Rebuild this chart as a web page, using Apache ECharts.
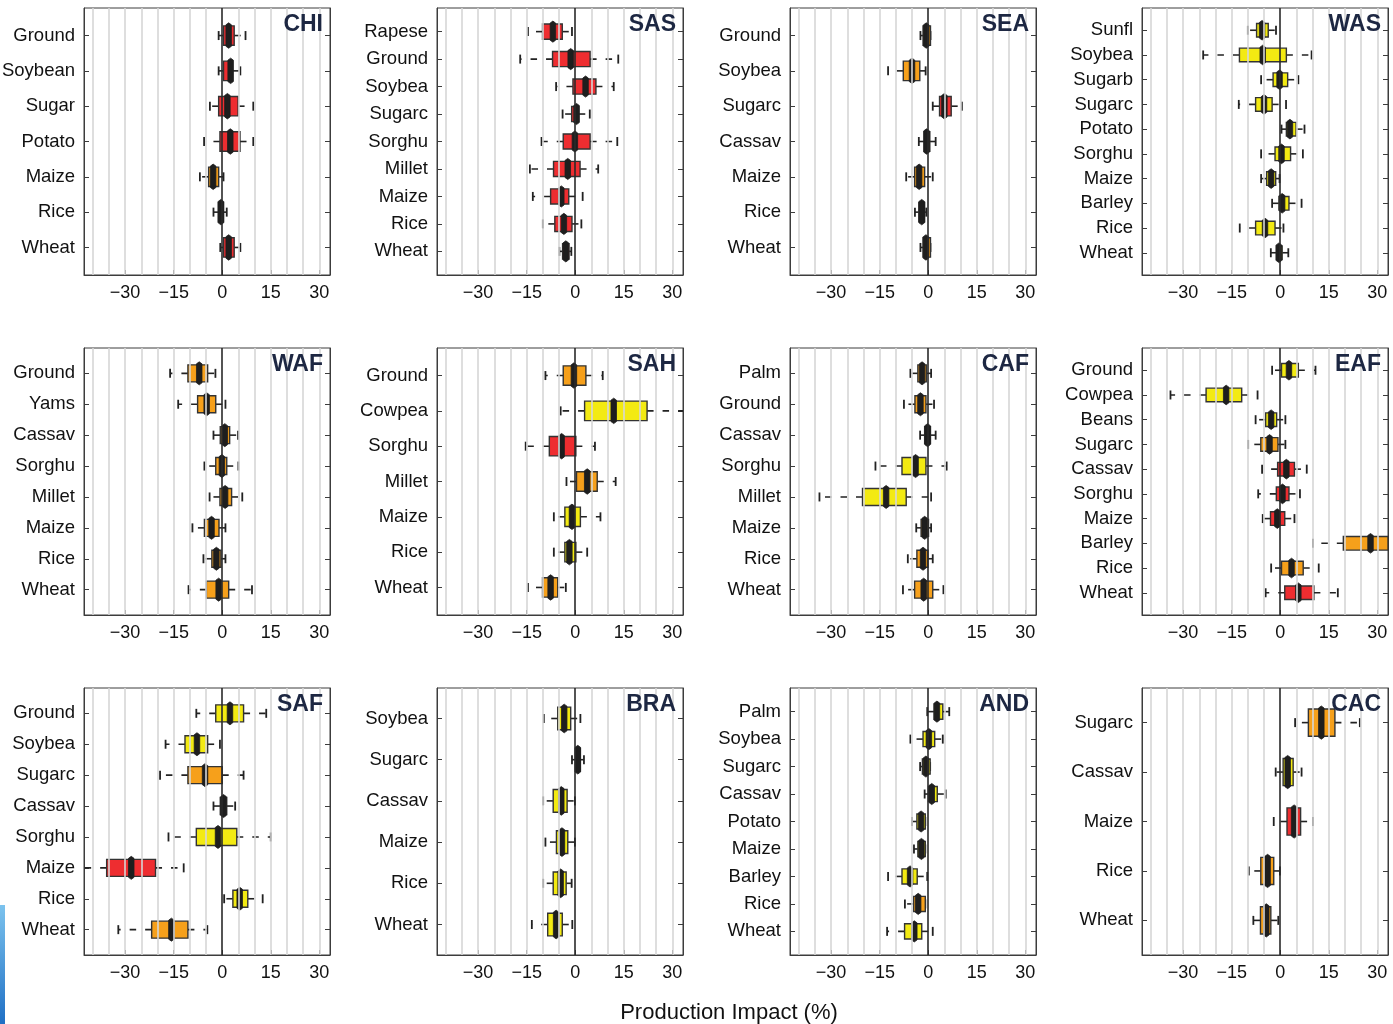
<!DOCTYPE html>
<html>
<head>
<meta charset="utf-8">
<script src="https://cdn.jsdelivr.net/npm/echarts@6/dist/echarts.min.js"></script>
<style>
  html, body { margin: 0; padding: 0; background: #ffffff; }
  #chart { width: 1393px; height: 1024px; }
</style>
</head>
<body>
<div id="chart"></div>
<script>
// Projected crop production impact (%) by region.
// Each stats row: [low whisker, 25th pct, median, 75th pct, high whisker]
// Tone index: 0 = red, 1 = orange, 2 = yellow

const CHI_crops = ['Ground', 'Soybean', 'Sugar', 'Potato', 'Maize', 'Rice', 'Wheat'];
const CHI_stats = [
  [-1.1, 0.4, 2.0, 3.7, 7.2],
  [-1.1, 0.4, 2.6, 3.2, 5.6],
  [-3.8, -1.1, 1.6, 4.9, 9.6],
  [-5.6, -0.7, 2.5, 5.5, 9.6],
  [-6.9, -4.2, -2.8, -1.1, 0.4],
  [-2.7, -1.2, -0.4, 0.4, 1.4],
  [-0.6, 0.4, 2.0, 3.7, 5.6]
];
const CHI_tone = [0, 0, 0, 0, 1, 0, 0];

const SAS_crops = ['Rapese', 'Ground', 'Soybea', 'Sugarc', 'Sorghu', 'Millet', 'Maize', 'Rice', 'Wheat'];
const SAS_stats = [
  [-14.6, -10.1, -6.9, -4.0, -1.0],
  [-17.0, -7.0, -1.4, 4.6, 13.3],
  [-5.9, -0.7, 3.2, 6.4, 11.9],
  [-3.9, -1.1, 0.4, 1.1, 4.5],
  [-10.4, -3.7, -0.1, 4.6, 13.0],
  [-14.0, -6.7, -2.3, 1.5, 7.1],
  [-13.1, -7.6, -4.3, -2.0, 2.3],
  [-10.0, -6.3, -3.5, -1.0, 1.9],
  [-4.9, -3.9, -2.9, -1.9, -1.2]
];
const SAS_tone = [0, 0, 0, 0, 0, 0, 0, 0, 0];

const SEA_crops = ['Ground', 'Soybea', 'Sugarc', 'Cassav', 'Maize', 'Rice', 'Wheat'];
const SEA_stats = [
  [-2.4, -1.6, -0.6, 0.7, 0.7],
  [-12.4, -7.7, -5.0, -2.6, -0.8],
  [1.4, 3.5, 5.0, 7.1, 10.4],
  [-2.9, -1.3, -0.5, 0.5, 2.3],
  [-6.8, -4.2, -2.8, -1.1, 1.4],
  [-4.1, -2.9, -2.0, -1.1, -0.6],
  [-2.4, -1.6, -0.7, 0.7, 0.7]
];
const SEA_tone = [1, 1, 0, 1, 1, 0, 1];

const WAS_crops = ['Sunfl', 'Soybea', 'Sugarb', 'Sugarc', 'Potato', 'Sorghu', 'Maize', 'Barley', 'Rice', 'Wheat'];
const WAS_stats = [
  [-10.0, -7.3, -5.6, -3.7, -1.3],
  [-23.8, -12.6, -5.4, 1.9, 9.7],
  [-5.9, -2.2, -0.2, 2.3, 5.6],
  [-12.8, -7.6, -5.0, -2.5, 1.8],
  [0.4, 1.9, 3.0, 4.9, 7.5],
  [-5.9, -1.6, 0.4, 3.2, 7.0],
  [-5.9, -4.2, -2.8, -1.4, -0.2],
  [-2.5, -0.4, 0.6, 2.7, 6.6],
  [-12.5, -7.6, -4.7, -1.6, 1.0],
  [-2.9, -1.2, -0.4, 0.6, 2.5]
];
const WAS_tone = [2, 2, 2, 2, 2, 2, 2, 2, 2, 2];

const WAF_crops = ['Ground', 'Yams', 'Cassav', 'Sorghu', 'Millet', 'Maize', 'Rice', 'Wheat'];
const WAF_stats = [
  [-16.1, -10.6, -7.1, -4.5, -2.1],
  [-13.6, -7.6, -4.8, -2.0, 1.0],
  [-2.7, -0.6, 0.8, 2.3, 4.9],
  [-5.5, -2.0, -0.1, 1.4, 5.0],
  [-3.9, -0.7, 0.9, 2.9, 6.2],
  [-9.2, -5.5, -3.3, -1.0, 1.0],
  [-5.8, -3.2, -1.8, -0.4, 1.0],
  [-10.4, -4.9, -1.1, 2.0, 9.2]
];
const WAF_tone = [1, 1, 1, 1, 1, 1, 1, 1];

const SAH_crops = ['Ground', 'Cowpea', 'Sorghu', 'Millet', 'Maize', 'Rice', 'Wheat'];
const SAH_stats = [
  [-9.2, -3.7, -0.4, 3.3, 8.5],
  [-4.5, 2.9, 11.9, 22.2, 36.0],
  [-15.3, -8.0, -4.2, 0.2, 6.1],
  [-2.7, 0.4, 3.7, 6.8, 12.5],
  [-6.6, -3.2, -1.0, 1.6, 7.8],
  [-6.6, -3.2, -1.8, 0.2, 3.7],
  [-14.6, -10.1, -7.6, -5.4, -2.9]
];
const SAH_tone = [1, 2, 0, 1, 2, 2, 1];

const CAF_crops = ['Palm', 'Ground', 'Cassav', 'Sorghu', 'Millet', 'Maize', 'Rice', 'Wheat'];
const CAF_stats = [
  [-5.5, -3.2, -1.9, -0.6, 0.9],
  [-7.5, -4.1, -2.4, -0.7, 1.8],
  [-2.5, -1.1, -0.2, 0.7, 2.3],
  [-16.3, -8.1, -3.9, -0.7, 5.7],
  [-33.6, -20.3, -13.0, -6.8, 0.9],
  [-3.7, -2.2, -1.1, 0.1, 0.9],
  [-6.3, -3.5, -1.6, -0.1, 1.4],
  [-7.8, -4.2, -1.4, 1.4, 4.7]
];
const CAF_tone = [1, 1, 1, 2, 2, 1, 1, 1];

const EAF_crops = ['Ground', 'Cowpea', 'Beans', 'Sugarc', 'Cassav', 'Sorghu', 'Maize', 'Barley', 'Rice', 'Wheat'];
const EAF_stats = [
  [-2.5, 0.4, 2.7, 5.6, 10.9],
  [-33.9, -22.9, -16.7, -11.9, -7.0],
  [-7.6, -4.5, -2.8, -1.1, 1.6],
  [-9.9, -6.0, -3.3, -0.7, 1.6],
  [-5.6, -0.8, 1.9, 4.4, 8.2],
  [-6.8, -1.2, 0.7, 2.7, 6.1],
  [-5.4, -3.0, -0.9, 1.4, 4.4],
  [10.1, 19.5, 27.9, 35.0, 42.0],
  [-2.8, 0.4, 3.5, 7.1, 11.9],
  [-4.5, 1.4, 5.6, 10.4, 17.8]
];
const EAF_tone = [2, 2, 2, 1, 0, 0, 0, 1, 1, 0];

const SAF_crops = ['Ground', 'Soybea', 'Sugarc', 'Cassav', 'Sorghu', 'Maize', 'Rice', 'Wheat'];
const SAF_stats = [
  [-8.0, -2.0, 2.4, 6.6, 13.6],
  [-17.5, -11.5, -7.8, -4.5, -0.7],
  [-19.2, -10.6, -5.3, 0.0, 6.6],
  [-2.7, -0.6, 0.4, 1.4, 4.0],
  [-16.6, -8.0, -1.3, 4.5, 15.0],
  [-46.0, -35.7, -28.1, -20.6, -11.9],
  [0.6, 3.3, 5.4, 7.9, 12.5],
  [-32.1, -21.8, -15.7, -10.6, -4.6]
];
const SAF_tone = [2, 2, 1, 1, 2, 0, 2, 1];

const BRA_crops = ['Soybea', 'Sugarc', 'Cassav', 'Maize', 'Rice', 'Wheat'];
const BRA_stats = [
  [-9.7, -5.4, -3.4, -1.4, 1.6],
  [-1.0, 0.1, 0.8, 1.6, 2.7],
  [-9.9, -6.8, -4.3, -2.5, -0.1],
  [-9.2, -5.8, -4.1, -2.3, -0.1],
  [-9.9, -6.8, -4.5, -2.8, -1.1],
  [-13.4, -8.5, -5.9, -4.0, -0.9]
];
const BRA_tone = [2, 2, 2, 2, 2, 2];

const AND_crops = ['Palm', 'Soybea', 'Sugarc', 'Cassav', 'Potato', 'Maize', 'Barley', 'Rice', 'Wheat'];
const AND_stats = [
  [-0.3, 1.8, 2.7, 4.5, 6.5],
  [-5.5, -1.6, 0.2, 2.0, 4.5],
  [-2.5, -1.8, -0.7, 0.6, 0.6],
  [-1.1, 0.1, 1.1, 2.8, 5.4],
  [-5.0, -3.5, -2.2, -0.9, -0.9],
  [-4.4, -3.2, -2.1, -0.9, -0.9],
  [-12.4, -8.1, -5.6, -3.4, -0.3],
  [-7.2, -4.5, -3.1, -0.9, -0.9],
  [-12.7, -7.3, -4.3, -2.0, 1.4]
];
const AND_tone = [2, 2, 2, 2, 2, 2, 2, 1, 2];

const CAC_crops = ['Sugarc', 'Cassav', 'Maize', 'Rice', 'Wheat'];
const CAC_stats = [
  [4.6, 8.7, 12.7, 16.9, 24.6],
  [-1.4, 0.9, 2.3, 4.0, 6.6],
  [-2.0, 2.1, 4.3, 6.3, 10.1],
  [-9.7, -6.0, -3.9, -2.0, -0.1],
  [-8.3, -6.1, -4.3, -2.9, -0.6]
];
const CAC_tone = [1, 2, 0, 1, 1];

// Axis ticks and background reference lines (percent)
const X_TICKS = [-30, -15, 0, 15, 30];
const X_GUIDES = [-40, -35, -30, -25, -20, -15, -10, -5, 5, 10, 15, 20, 25, 30];
const X_MIN = -42.7;
const X_MAX = 33.3;

const TONES = ['#ee2d30', '#f6a01b', '#f3ea12'];

const REGIONS = [
  { name: 'CHI', crops: CHI_crops, stats: CHI_stats, tone: CHI_tone },
  { name: 'SAS', crops: SAS_crops, stats: SAS_stats, tone: SAS_tone },
  { name: 'SEA', crops: SEA_crops, stats: SEA_stats, tone: SEA_tone },
  { name: 'WAS', crops: WAS_crops, stats: WAS_stats, tone: WAS_tone },
  { name: 'WAF', crops: WAF_crops, stats: WAF_stats, tone: WAF_tone },
  { name: 'SAH', crops: SAH_crops, stats: SAH_stats, tone: SAH_tone },
  { name: 'CAF', crops: CAF_crops, stats: CAF_stats, tone: CAF_tone },
  { name: 'EAF', crops: EAF_crops, stats: EAF_stats, tone: EAF_tone },
  { name: 'SAF', crops: SAF_crops, stats: SAF_stats, tone: SAF_tone },
  { name: 'BRA', crops: BRA_crops, stats: BRA_stats, tone: BRA_tone },
  { name: 'AND', crops: AND_crops, stats: AND_stats, tone: AND_tone },
  { name: 'CAC', crops: CAC_crops, stats: CAC_stats, tone: CAC_tone }
];

// Panel layout
const COL_LEFT = [84, 437, 790, 1142];
const ROW_TOP = [8, 348, 688];
const PLOT_W = 246;
const PLOT_H = 267;

const INK = '#222222';
const FONT = '"Liberation Sans", Arial, Helvetica, sans-serif';

function fmtTick(v) {
  return v < 0 ? '\u2212' + Math.abs(v) : String(v);
}

// One box per crop row: dashed whiskers with caps, filled box, dark median bar
function renderBox(params, api) {
  const cat = api.value(0);
  const lo = api.value(1), q1 = api.value(2), md = api.value(3), q3 = api.value(4), hi = api.value(5);
  const fill = TONES[api.value(6)];
  const cs = params.coordSys;
  const xL = cs.x, xR = cs.x + cs.width;
  const clampX = (x) => Math.max(xL, Math.min(xR, x));
  const px = (v) => api.coord([v, cat])[0];
  const y = api.coord([0, cat])[1];
  const unit = Math.abs(api.size([0, 1])[1]);
  const boxH = unit * 0.55;
  const capH = 9;
  const children = [];
  const whisk = { stroke: INK, lineWidth: 1.6, lineDash: [6.5, 9] };
  const cap = { stroke: INK, lineWidth: 1.8 };

  const pLo = px(lo), pQ1 = px(q1), pMd = px(md), pQ3 = px(q3), pHi = px(hi);

  if (pQ1 - pLo > 0.5) {
    children.push({ type: 'line', shape: { x1: clampX(pQ1), y1: y, x2: clampX(pLo), y2: y }, style: whisk });
  }
  if (pHi - pQ3 > 0.5) {
    children.push({ type: 'line', shape: { x1: clampX(pQ3), y1: y, x2: clampX(pHi), y2: y }, style: whisk });
  }
  if (pLo >= xL && pLo <= xR) {
    children.push({ type: 'line', shape: { x1: pLo, y1: y - capH / 2, x2: pLo, y2: y + capH / 2 }, style: cap });
  }
  if (pHi >= xL && pHi <= xR) {
    children.push({ type: 'line', shape: { x1: pHi, y1: y - capH / 2, x2: pHi, y2: y + capH / 2 }, style: cap });
  }
  const bx1 = clampX(pQ1), bx2 = clampX(pQ3);
  children.push({
    type: 'rect',
    shape: { x: bx1, y: y - boxH / 2, width: Math.max(0, bx2 - bx1), height: boxH },
    style: { fill: fill, stroke: '#333333', lineWidth: 1.4 }
  });
  if (pMd >= xL && pMd <= xR) {
    const w = 5.5, h = boxH + 6, t = y - h / 2, b = y + h / 2;
    children.push({
      type: 'polygon',
      shape: { points: [[pMd - w / 2, t + 2], [pMd, t], [pMd + w / 2, t + 2], [pMd + w / 2, b - 2], [pMd, b], [pMd - w / 2, b - 2]] },
      style: { fill: '#1e1e1e', stroke: '#1e1e1e', lineWidth: 0.8 }
    });
  }
  return { type: 'group', children: children };
}

const grids = [], xAxes = [], yAxes = [], series = [], graphics = [];

REGIONS.forEach((reg, i) => {
  const col = i % 4, row = Math.floor(i / 4);
  const left = COL_LEFT[col], top = ROW_TOP[row];
  const n = reg.crops.length;
  const pad = 0.5 + 0.04 * n;
  const catTicks = reg.crops.map((_, k) => k + 1);

  grids.push({
    left: left, top: top, width: PLOT_W, height: PLOT_H,
    show: true, borderColor: '#3c3c3c', borderWidth: 1, backgroundColor: 'transparent',
    containLabel: false, outerBoundsMode: 'none'
  });

  xAxes.push({
    gridIndex: i, type: 'value', min: X_MIN, max: X_MAX, position: 'bottom',
    axisLine: { show: true, onZero: false, lineStyle: { color: '#3c3c3c', width: 1 } },
    axisTick: { show: true, inside: true, length: 5, customValues: X_TICKS, lineStyle: { color: '#3c3c3c', width: 1 } },
    axisLabel: { show: true, customValues: X_TICKS, formatter: fmtTick, fontSize: 18, color: '#111', fontFamily: FONT, margin: 9 },
    splitLine: { show: false }
  });

  yAxes.push({
    gridIndex: i, type: 'value', inverse: true, min: 1 - pad, max: n + pad, position: 'left',
    axisLine: { show: true, onZero: false, lineStyle: { color: '#3c3c3c', width: 1 } },
    axisTick: { show: true, inside: true, length: 5, customValues: catTicks, lineStyle: { color: '#3c3c3c', width: 1 } },
    axisLabel: {
      show: true, customValues: catTicks, fontSize: 18.5, color: '#111', fontFamily: FONT, margin: 9,
      formatter: (v) => reg.crops[Math.round(v) - 1] || ''
    },
    splitLine: { show: false }
  });
  yAxes.push({
    gridIndex: i, type: 'value', inverse: true, min: 1 - pad, max: n + pad, position: 'right',
    axisLine: { show: true, onZero: false, lineStyle: { color: '#3c3c3c', width: 1 } },
    axisTick: { show: true, inside: true, length: 5, customValues: catTicks, lineStyle: { color: '#3c3c3c', width: 1 } },
    axisLabel: { show: false },
    splitLine: { show: false }
  });

  // reference lines
  series.push({
    type: 'line', xAxisIndex: i, yAxisIndex: 2 * i, data: [], silent: true, z: 1,
    markLine: {
      silent: true, symbol: ['none', 'none'], animation: false,
      label: { show: false },
      lineStyle: { color: '#d6d6d6', width: 1.6, type: 'solid' },
      emphasis: { disabled: true },
      data: X_GUIDES.map((v) => ({ xAxis: v })).concat([
        { xAxis: 0, lineStyle: { color: '#2a2a2a', width: 1.6, type: 'solid' } }
      ])
    }
  });

  series.push({
    type: 'custom', xAxisIndex: i, yAxisIndex: 2 * i, z: 3, silent: true, animation: false,
    renderItem: renderBox,
    encode: { x: [1, 2, 3, 4, 5], y: 0 },
    data: reg.stats.map((s, k) => [k + 1, s[0], s[1], s[2], s[3], s[4], reg.tone[k]])
  });

  graphics.push({
    type: 'text', x: left + PLOT_W - 7, y: top + 17, z: 10, silent: true,
    style: { text: reg.name, fill: '#1d2742', font: 'bold 23px ' + FONT, textAlign: 'right', textVerticalAlign: 'middle' }
  });
});

graphics.push({
  type: 'text', x: 729, y: 1013, silent: true,
  style: { text: 'Production Impact (%)', fill: '#111', font: '22px ' + FONT, textAlign: 'center', textVerticalAlign: 'middle' }
});
graphics.push({
  type: 'rect', silent: true, shape: { x: 0, y: 905, width: 5, height: 119 },
  style: { fill: new echarts.graphic.LinearGradient(0, 0, 0, 1, [{ offset: 0, color: '#7cc3ee' }, { offset: 1, color: '#1f6fc4' }]) }
});

const chart = echarts.init(document.getElementById('chart'), null, { renderer: 'canvas' });
chart.setOption({
  backgroundColor: '#ffffff',
  animation: false,
  grid: grids,
  xAxis: xAxes,
  yAxis: yAxes,
  series: series,
  graphic: graphics
});
</script>
</body>
</html>
